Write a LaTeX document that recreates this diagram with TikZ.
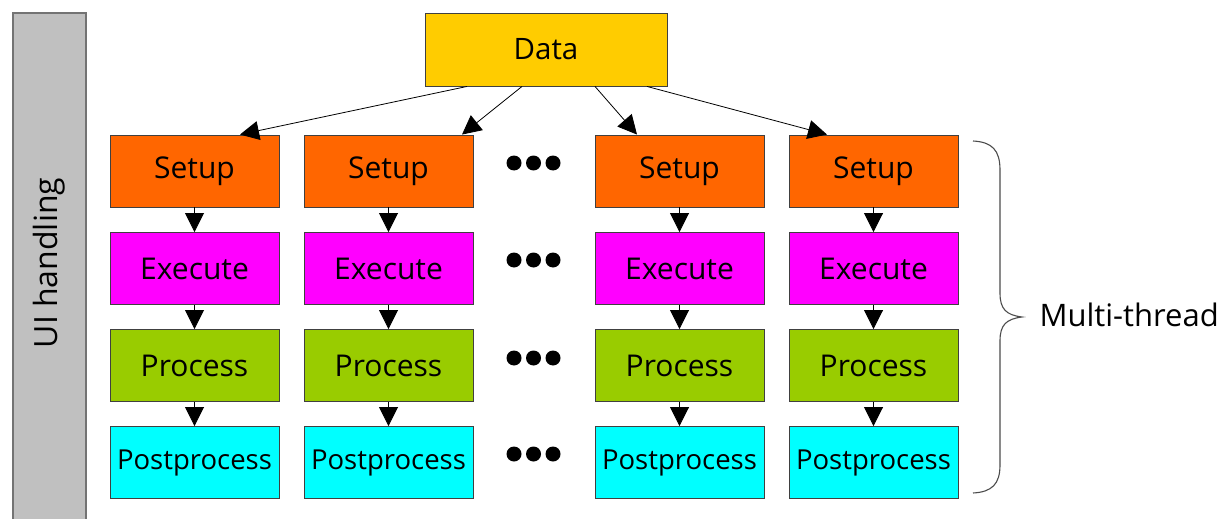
\documentclass[tikz,border=0pt]{standalone}
\usepackage{fontspec}
\setmainfont{Open Sans}
\usetikzlibrary{arrows.meta,calc}
\definecolor{cdata}{HTML}{FFCC00}
\definecolor{csetup}{HTML}{FF6600}
\definecolor{cexec}{HTML}{FF00FF}
\definecolor{cproc}{HTML}{99CC00}
\definecolor{cpost}{HTML}{00FFFF}
\definecolor{cbar}{HTML}{C0C0C0}
\definecolor{cbord}{HTML}{404040}
\tikzset{
  box/.style={draw=cbord, line width=0.9pt, rectangle, minimum width=169pt, minimum height=72pt, inner sep=0pt, font=\fontsize{30}{33}\selectfont, text=black},
  postbox/.style={box, font=\fontsize{27.5}{30}\selectfont},
  conn/.style={-{Triangle[width=19pt,length=19pt]}, line width=0.8pt, black},
  dot/.style={circle, fill=black, minimum size=15pt, inner sep=0pt},
}
\begin{document}
\begin{tikzpicture}[x=1pt,y=-1pt]
\useasboundingbox (0,0) rectangle (1221,519);
\begin{scope}
\clip (0,0) rectangle (1221,519);
\draw[fill=cbar, draw=gray!90!black, line width=1.2pt] (13,13) rectangle (86,530);
\end{scope}
\node[rotate=90, font=\fontsize{32}{35}\selectfont] (ui) at (49,263) {UI handling};

\node[box, fill=cdata, minimum width=242pt, minimum height=73pt, font=\fontsize{29.5}{32}\selectfont] (d) at (546,49.5) {Data};

\foreach \c/\x in {1/194.5, 2/388.5, 3/679.5, 4/873.5}{
  \node[box, fill=csetup] (s\c) at (\x,171) {Setup};
  \node[box, fill=cexec] (e\c) at (\x,268.5) {Execute};
  \node[box, fill=cproc] (p\c) at (\x,365.5) {Process};
  \node[postbox, fill=cpost] (q\c) at (\x,462.5) {Postprocess};
  \draw[conn] (s\c) -- (e\c);
  \draw[conn] (e\c) -- (p\c);
  \draw[conn] (p\c) -- (q\c);
}

\draw[conn] ($(d.south)+(-79,0)$) -- ($(s1.north)+(45.5,0)$);
\draw[conn] ($(d.south)+(-24,0)$) -- ($(s2.north)+(73.5,0)$);
\draw[conn] ($(d.south)+(49,0)$) -- ($(s3.north)+(-42.5,0)$);
\draw[conn] ($(d.south)+(101,0)$) -- ($(s4.north)+(-46.5,0)$);

\foreach \r/\y in {1/163, 2/260, 3/358, 4/454}{
  \node[dot] (da\r) at (514,\y) {};
  \node[dot] (db\r) at (533.5,\y) {};
  \node[dot] (dc\r) at (553,\y) {};
}

\draw[line width=1.1pt, draw=black!70] (973,141) .. controls (992,142) and (1000,150) .. (1000,170) -- (1000,293) .. controls (1000,309) and (1006,315) .. (1022,317) .. controls (1006,319) and (1000,325) .. (1000,341) -- (1000,465) .. controls (1000,484) and (992,492) .. (973,493);
\node[anchor=west, font=\fontsize{31}{34}\selectfont] (mt) at (1036,315) {Multi-thread};
\end{tikzpicture}
\end{document}
